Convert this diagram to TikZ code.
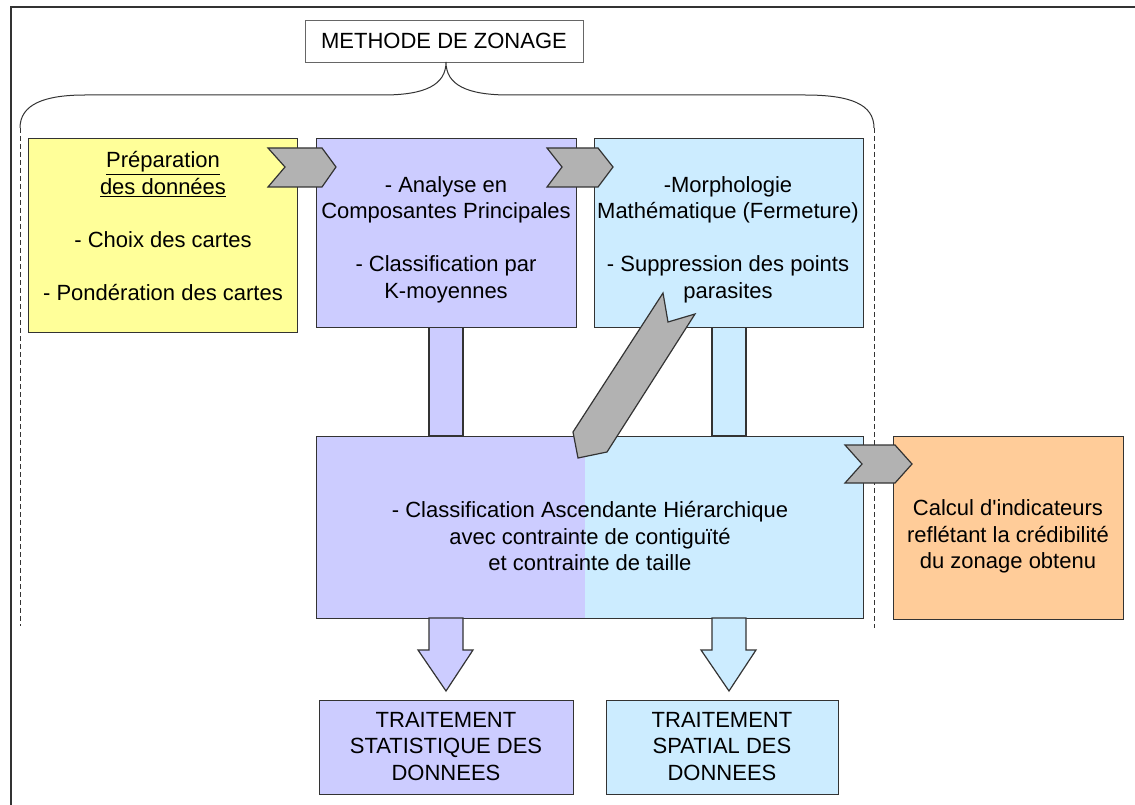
\documentclass[tikz,border=0pt]{standalone}
\usepackage{fontspec}
\setmainfont{Liberation Sans}
\newfontfamily\plainsans{Liberation Sans}
\definecolor{cyel}{HTML}{FFFF99}
\definecolor{cpur}{HTML}{CCCCFF}
\definecolor{cblu}{HTML}{CCECFF}
\definecolor{cora}{HTML}{FFCC99}
\definecolor{cgry}{HTML}{B2B2B2}
\definecolor{cline}{HTML}{333333}
\begin{document}
\begin{tikzpicture}[x=1pt,y=-1pt,
  boxsty/.style={draw=cline, line width=1.2pt, inner sep=0pt, anchor=north west},
  lbl/.style={align=center, inner sep=0pt, font=\fontsize{22}{26.5}\selectfont},
  blockarrow/.style={draw=cline, line width=1.2pt, line join=miter},
  dashline/.style={draw=cline, line width=0.9pt, dash pattern=on 5pt off 3pt}]
\useasboundingbox (0,0) rectangle (1135,805);
\fill[white] (0,0) rectangle (1135,805);
% outer frame (only left and top edges visible)
\draw[line width=2.2pt, cline] (11,815) -- (11,7) -- (1145,7);

% title
\node[boxsty, draw=black!60, line width=1pt, minimum width=278pt, minimum height=42pt, fill=white] (title) at (305,20) {};
\node[lbl] (titleT) at (444,41) {METHODE DE ZONAGE};

% brace
\coordinate (bl) at (20,128);
\coordinate (br) at (874,128);
\draw[cline, line width=1pt] (bl) .. controls (20,104) and (45,95) .. (85,95) -- (383,95)
  .. controls (425,95) and (446,85) .. (446,62)
  .. controls (446,85) and (467,95) .. (509,95) -- (805,95)
  .. controls (850,95) and (874,104) .. (br);
\coordinate (blb) at (20,626);
\coordinate (brb) at (874,628);
\draw[dashline] (bl) -- (blb);
\draw[dashline] (br) -- (brb);

% vertical bars
\filldraw[fill=cpur, draw=cline, line width=1.2pt] (429,327) rectangle (463,436);
\filldraw[fill=cblu, draw=cline, line width=1.2pt] (712,327) rectangle (746,436);

% top boxes
\node[boxsty, fill=cyel, minimum width=269pt, minimum height=194pt] (prep) at (28,138) {};
\node[boxsty, fill=cpur, minimum width=260pt, minimum height=189pt] (acp) at (316,138) {};
\node[boxsty, fill=cblu, minimum width=269pt, minimum height=189pt] (morph) at (594,138) {};

% big box two-tone
\fill[cpur] (316,436) rectangle (585,618);
\fill[cblu] (585,436) rectangle (863,618);
\node[boxsty, minimum width=547pt, minimum height=182pt] (cah) at (316,436) {};

% orange box
\node[boxsty, fill=cora, minimum width=230pt, minimum height=183pt] (calc) at (893,436) {};

% bottom boxes
\node[boxsty, fill=cpur, minimum width=254pt, minimum height=94pt] (stat) at (319,700) {};
\node[boxsty, fill=cblu, minimum width=232pt, minimum height=94pt] (spat) at (606,700) {};

% down arrows
\filldraw[blockarrow, fill=cpur] (429,618) -- (463,618) -- (463,650) -- (473,650) -- (446,691) -- (418,650) -- (429,650) -- cycle;
\filldraw[blockarrow, fill=cblu] (712,618) -- (746,618) -- (746,650) -- (756,650) -- (729,691) -- (701,650) -- (712,650) -- cycle;

% chevrons
\filldraw[blockarrow, fill=cgry] (268,148) -- (322,148) -- (336,167) -- (322,187) -- (268,187) -- (285,167) -- cycle;
\filldraw[blockarrow, fill=cgry] (547,148) -- (598,148) -- (613,167) -- (598,187) -- (547,187) -- (562,167) -- cycle;
\filldraw[blockarrow, fill=cgry] (845,445) -- (895,445) -- (912,464) -- (895,483) -- (845,483) -- (862,464) -- cycle;

% diagonal arrow
\filldraw[blockarrow, fill=cgry] (663,293) -- (668,322) -- (695,314) -- (607,452) -- (578,458) -- (573,432) -- cycle;

% texts
\node[lbl] (prepT) at (163,226) {\underline{Préparation}\\\underline{des données}\\[26.5pt]- Choix des cartes\\[26.5pt]- Pondération des cartes};
\node[lbl] (acpT) at (446,239.5) {- Analyse en\\Composantes Principales\\[26.5pt]- Classification par\\K-moyennes};
\node[lbl] (morphT) at (728,239.5) {-Morphologie\\Mathématique (Fermeture)\\[26.5pt]- Suppression des points\\parasites};
\node[lbl] (cahT) at (590,536.5) {- Classification Ascendante Hiérarchique\\avec contrainte de contiguïté\\et contrainte de taille};
\node[lbl] (calcT) at (1008,536.5) {Calcul d{\plainsans '}indicateurs\\reflétant la crédibilité\\du zonage obtenu};
\node[lbl] (statT) at (446,746.5) {TRAITEMENT\\STATISTIQUE DES\\DONNEES};
\node[lbl] (spatT) at (722,746.5) {TRAITEMENT\\SPATIAL DES\\DONNEES};
\end{tikzpicture}
\end{document}
